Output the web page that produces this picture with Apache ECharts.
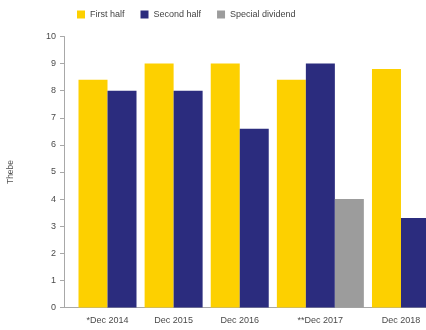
<!DOCTYPE html>
<html>
<head>
<meta charset="utf-8">
<script src="https://cdn.jsdelivr.net/npm/echarts@6/dist/echarts.min.js"></script>
<style>
  html, body { margin: 0; padding: 0; background: #ffffff; }
  #chart { width: 426px; height: 330px; }
</style>
</head>
<body>
<div id="chart"></div>
<script>
// Dividend per share (thebe), by reporting period
const categories = ['*Dec 2014', 'Dec 2015', 'Dec 2016', '**Dec 2017', 'Dec 2018'];
const firstHalf = [8.4, 9.0, 9.0, 8.4, 8.8];
const secondHalf = [8.0, 8.0, 6.6, 9.0, 3.3];
const specialDividend = [null, null, null, 4.0, null];
const yTicks = [0, 1, 2, 3, 4, 5, 6, 7, 8, 9, 10];

const seriesNames = ['First half', 'Second half', 'Special dividend'];
const seriesValues = [firstHalf, secondHalf, specialDividend];
const seriesColors = ['#FDD000', '#2B2C7E', '#9C9C9C'];

// Bars in a group sit side by side; only the bars that exist take up room,
// so a period with a special dividend is one bar wider than the others.
const LEAD = 0.5;       // space before the first group, in bar widths
const GROUP_GAP = 0.28; // space between groups, in bar widths
const points = seriesValues.map(() => []);
const groupCenters = [];
let cursor = LEAD;
categories.forEach((cat, ci) => {
  let slot = 0;
  seriesValues.forEach((vals, si) => {
    if (vals[ci] !== null && vals[ci] !== undefined) {
      points[si].push([cursor + slot + 0.5, vals[ci]]);
      slot++;
    }
  });
  groupCenters.push(cursor + slot / 2);
  cursor += slot + GROUP_GAP;
});

function labelFor(v) {
  let best = 0;
  groupCenters.forEach((c, i) => {
    if (Math.abs(c - v) < Math.abs(groupCenters[best] - v)) best = i;
  });
  return categories[best];
}

const chart = echarts.init(document.getElementById('chart'), null, { renderer: 'canvas' });

chart.setOption({
  animation: false,
  backgroundColor: '#ffffff',
  textStyle: { fontFamily: 'Liberation Sans, Arial, sans-serif' },
  legend: {
    left: 77,
    top: 10,
    padding: 0,
    itemWidth: 8,
    itemHeight: 8,
    itemGap: 16,
    icon: 'rect',
    textStyle: { fontSize: 9, color: '#444444', fontFamily: 'Liberation Sans, Arial, sans-serif' },
    data: seriesNames
  },
  grid: {
    left: 64,
    width: 377,
    top: 36.5,
    bottom: 22.5,
    containLabel: false,
    outerBoundsMode: 'none'
  },
  xAxis: {
    type: 'value',
    min: 0,
    max: 13,
    axisLine: { show: true, lineStyle: { color: '#a8a8a8', width: 1 } },
    axisTick: { show: false },
    splitLine: { show: false },
    axisLabel: {
      customValues: groupCenters,
      formatter: labelFor,
      fontSize: 9,
      color: '#4a4a4a',
      margin: 9,
      fontFamily: 'Liberation Sans, Arial, sans-serif'
    }
  },
  yAxis: {
    type: 'value',
    min: yTicks[0],
    max: yTicks[yTicks.length - 1],
    interval: 1,
    name: 'Thebe',
    nameLocation: 'middle',
    nameGap: 49,
    nameRotate: 90,
    nameTextStyle: { fontSize: 8.5, color: '#555555', fontFamily: 'Liberation Sans, Arial, sans-serif' },
    axisLine: { show: true, lineStyle: { color: '#a8a8a8', width: 1 } },
    axisTick: { show: true, length: 4, lineStyle: { color: '#a8a8a8' } },
    splitLine: { show: false },
    axisLabel: {
      fontSize: 9,
      color: '#4a4a4a',
      margin: 8,
      fontFamily: 'Liberation Sans, Arial, sans-serif'
    }
  },
  series: seriesNames.map((name, si) => ({
    name: name,
    type: 'bar',
    data: points[si],
    barWidth: '100%',
    barGap: '-100%',
    itemStyle: { color: seriesColors[si] },
    emphasis: { disabled: true }
  }))
});
</script>
</body>
</html>
